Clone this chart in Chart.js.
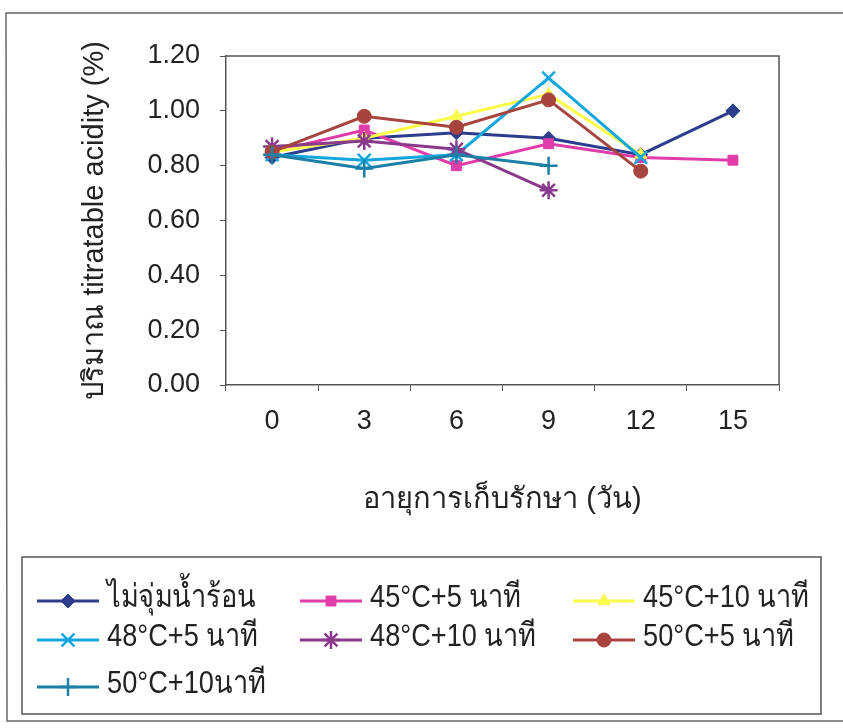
<!DOCTYPE html>
<html>
<head>
<meta charset="utf-8">
<title>Titratable acidity</title>
<script src="https://cdn.jsdelivr.net/npm/chart.js"></script>
<style>
  html, body { margin: 0; padding: 0; background: #fff; }
  canvas { display: block; }
</style>
</head>
<body>
<canvas id="myChart" width="843" height="728"></canvas>
<script>
// storage days (x axis)
const days = ['0', '3', '6', '9', '12', '15'];

// series names (as in the legend)
const seriesNames = [
  'ไม่จุ่มน้ำร้อน',
  '45°C+5 นาที',
  '45°C+10 นาที',
  '48°C+5 นาที',
  '48°C+10 นาที',
  '50°C+5 นาที',
  '50°C+10นาที'
];

const noDip     = [0.83, 0.90, 0.92, 0.90, 0.84, 1.00];
const t45min5   = [0.85, 0.93, 0.80, 0.88, 0.83, 0.82];
const t45min10  = [0.85, 0.90, 0.98, 1.06, 0.84, null];
const t48min5   = [0.84, 0.82, 0.84, 1.12, 0.83, null];
const t48min10  = [0.87, 0.89, 0.86, 0.71, null, null];
const t50min5   = [0.85, 0.98, 0.94, 1.04, 0.78, null];
const t50min10  = [0.84, 0.79, 0.84, 0.80, null, null];

const yTicks = [0, 0.2, 0.4, 0.6, 0.8, 1.0, 1.2];

const seriesData = [noDip, t45min5, t45min10, t48min5, t48min10, t50min5, t50min10];

// look of each line
const looks = [
  { color: '#2b3d8c', point: 'rectRot',  radius: 7, bw: 1 },
  { color: '#e03caa', point: 'rect',     radius: 7, bw: 1 },
  { color: '#fbfb4a', point: 'triangle', radius: 7, bw: 1 },
  { color: '#12a6df', point: 'crossRot', radius: 9, bw: 2.5 },
  { color: '#8a3a8c', point: 'star',     radius: 9, bw: 2.5 },
  { color: '#a8443e', point: 'circle',   radius: 7, bw: 1 },
  { color: '#1b7fa8', point: 'cross',    radius: 9, bw: 2.5 }
];

const datasets = seriesData.map((d, i) => ({
  label: seriesNames[i],
  data: d,
  borderColor: looks[i].color,
  backgroundColor: looks[i].color,
  borderWidth: 3,
  pointStyle: looks[i].point,
  pointRadius: looks[i].radius,
  pointBorderWidth: looks[i].bw,
  pointBackgroundColor: looks[i].color,
  pointBorderColor: looks[i].color,
  tension: 0,
  spanGaps: false,
  order: 20 - i   // later series drawn on top
}));

const axisFont = { family: '"Liberation Sans", Arial, sans-serif', size: 27 };
const titleFont = { family: '"Liberation Sans", Arial, sans-serif', size: 29 };

// outer frame + plot frame
const framePlugin = {
  id: 'frame',
  beforeDraw(chart) {
    const ctx = chart.ctx;
    ctx.save();
    ctx.fillStyle = '#fff';
    ctx.fillRect(0, 0, chart.width, chart.height);
    ctx.strokeStyle = '#666';
    ctx.lineWidth = 1.5;
    ctx.beginPath();
    ctx.moveTo(chart.width + 5, 13);
    ctx.lineTo(6, 13);
    ctx.lineTo(7, 721);
    ctx.lineTo(chart.width + 5, 721);
    ctx.stroke();
    ctx.restore();
  },
  afterDatasetsDraw(chart) {
    const a = chart.chartArea;
    const ctx = chart.ctx;
    ctx.save();
    ctx.strokeStyle = '#555';
    ctx.lineWidth = 1.5;
    ctx.beginPath();
    ctx.moveTo(a.left, a.top);
    ctx.lineTo(a.right, a.top);
    ctx.lineTo(a.right, a.bottom);
    ctx.stroke();
    ctx.restore();
  }
};

// boxed legend in three columns like the original
const boxLegend = {
  id: 'boxLegend',
  afterDraw(chart) {
    const ctx = chart.ctx;
    const colX = [37, 300, 573];
    const rowY = [601, 640, 687];
    ctx.save();
    ctx.strokeStyle = '#555';
    ctx.lineWidth = 1.5;
    ctx.strokeRect(22, 557, 799, 157);
    ctx.font = '32px "Liberation Sans Narrow", "Liberation Sans", sans-serif';
    ctx.textBaseline = 'middle';
    ctx.textAlign = 'left';
    chart.data.datasets.forEach((ds, i) => {
      const x = colX[i % 3];
      const y = rowY[Math.floor(i / 3)];
      ctx.strokeStyle = ds.borderColor;
      ctx.fillStyle = ds.borderColor;
      ctx.lineWidth = 3;
      ctx.beginPath();
      ctx.moveTo(x, y);
      ctx.lineTo(x + 62, y);
      ctx.stroke();
      ctx.lineWidth = ds.pointBorderWidth;
      Chart.helpers.drawPoint(ctx, {
        pointStyle: ds.pointStyle,
        radius: ds.pointRadius,
        borderWidth: ds.pointBorderWidth,
        rotation: 0
      }, x + 31, y);
      // condensed look of the original legend font
      ctx.save();
      ctx.translate(x + 70, y - 3);
      ctx.scale(0.85, 1);
      ctx.fillStyle = '#222';
      ctx.fillText(ds.label, 0, 0);
      ctx.restore();
    });
    ctx.restore();
  }
};

document.addEventListener('DOMContentLoaded', () => {
  const ctx = document.getElementById('myChart').getContext('2d');
  new Chart(ctx, {
    type: 'line',
    data: { labels: days, datasets: datasets },
    options: {
      responsive: false,
      animation: false,
      devicePixelRatio: 1,
      layout: { padding: { left: 68, right: 64, top: 56, bottom: 203 } },
      plugins: {
        legend: { display: false },
        tooltip: { enabled: false }
      },
      scales: {
        x: {
          type: 'category',
          offset: true,
          grid: {
            offset: true,
            drawOnChartArea: false,
            drawTicks: true,
            tickLength: 6,
            color: '#555'
          },
          border: { display: true, color: '#555', width: 1.5 },
          ticks: { font: axisFont, color: '#222', padding: 14, maxRotation: 0 },
          title: {
            display: true,
            text: 'อายุการเก็บรักษา (วัน)',
            font: titleFont,
            color: '#222',
            padding: { top: 0, bottom: 8 }
          },
          afterFit(scale) { scale.height = 140; }
        },
        y: {
          min: 0,
          max: 1.2,
          afterBuildTicks(scale) {
            scale.ticks = yTicks.map(v => ({ value: v }));
          },
          grid: {
            drawOnChartArea: false,
            drawTicks: true,
            tickLength: 6,
            color: '#555'
          },
          border: { display: true, color: '#555', width: 1.5 },
          ticks: {
            font: axisFont,
            color: '#222',
            padding: 20,
            callback: v => Number(v).toFixed(2)
          },
          title: {
            display: true,
            text: 'ปริมาณ titratable acidity (%)',
            font: titleFont,
            color: '#222',
            padding: { top: 10, bottom: 0 }
          },
          afterFit(scale) { scale.width = 158; }
        }
      }
    },
    plugins: [framePlugin, boxLegend]
  });
});
</script>
</body>
</html>
